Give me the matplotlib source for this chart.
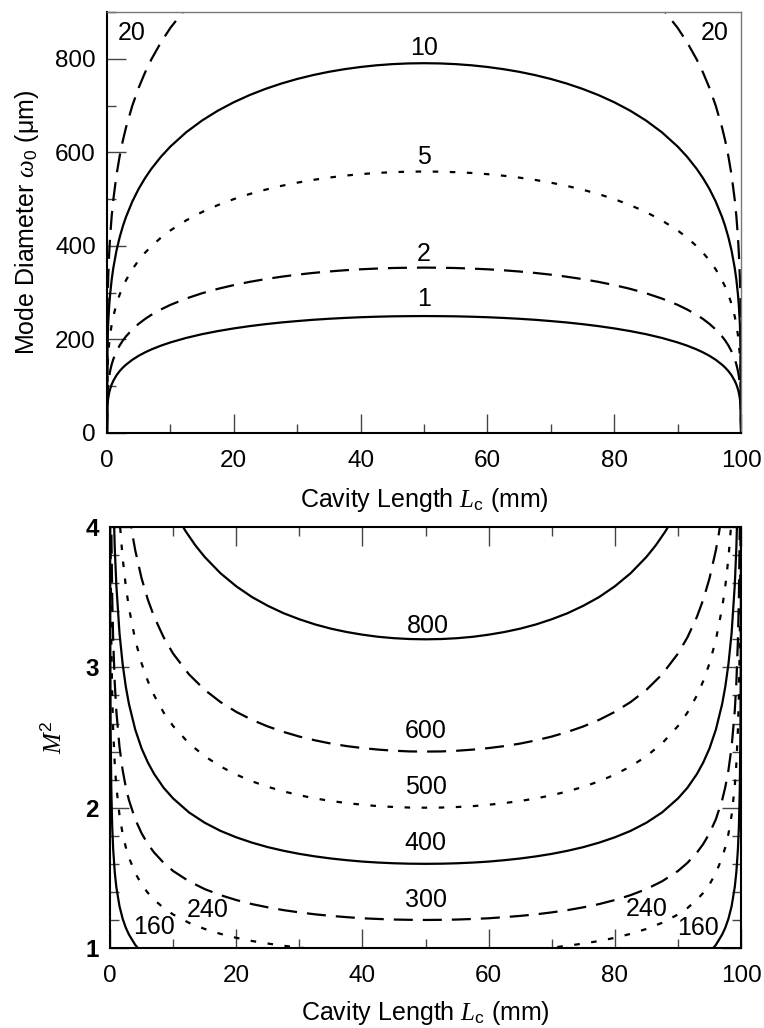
import matplotlib
matplotlib.use("Agg")
import matplotlib.pyplot as plt
from matplotlib.ticker import MultipleLocator

plt.rcParams['font.family'] = ['Liberation Sans', 'DejaVu Sans']
plt.rcParams['mathtext.fontset'] = 'custom'
plt.rcParams['mathtext.it'] = 'Liberation Serif:italic'
plt.rcParams['mathtext.rm'] = 'Liberation Sans'
plt.rcParams['lines.scale_dashes'] = False

# ---------------- top panel data: mode diameter (um) vs cavity length (mm) ----------------
L_top = [0, 0.1, 0.2, 0.35, 0.5, 0.75, 1, 1.5, 2, 2.5, 3, 4, 5, 6, 7, 8.5, 10, 12.5, 15, 17.5,
         20, 22.5, 25, 27.5, 30, 32.5, 35, 37.5, 40, 42.5, 45, 47.5, 50,
         52.5, 55, 57.5, 60, 62.5, 65, 67.5, 70, 72.5, 75, 77.5, 80, 82.5, 85, 87.5, 90,
         91.5, 93, 94, 95, 96, 97, 97.5, 98, 98.5, 99, 99.25, 99.5, 99.65, 99.8, 99.9, 100]
w_M1 = [0, 62.9, 74.7, 85.9, 93.9, 103.9, 111.5, 123.3, 132.3, 139.7, 146.0, 156.5, 165.1, 172.3, 178.6,
        186.7, 193.6, 203.3, 211.3, 217.9, 223.6, 228.5, 232.7, 236.3, 239.3, 242.0, 244.2, 246.0, 247.5,
        248.6, 249.4, 249.8, 250.0,
        249.8, 249.4, 248.6, 247.5, 246.0, 244.2, 242.0, 239.3, 236.3, 232.7, 228.5, 223.6, 217.9, 211.3,
        203.3, 193.6, 186.7, 178.6, 172.3, 165.1, 156.5, 146.0, 139.7, 132.3, 123.3, 111.5, 103.9, 93.9,
        85.9, 74.7, 62.9, 0]
w_M2 = [0, 88.9, 105.7, 121.5, 132.8, 146.9, 157.7, 174.3, 187.1, 197.6, 206.5, 221.3, 233.4, 243.7, 252.6,
        264.0, 273.9, 287.5, 298.8, 308.2, 316.2, 323.1, 329.0, 334.1, 338.5, 342.2, 345.3, 347.9, 350.0,
        351.5, 352.7, 353.3, 353.6,
        353.3, 352.7, 351.5, 350.0, 347.9, 345.3, 342.2, 338.5, 334.1, 329.0, 323.1, 316.2, 308.2, 298.8,
        287.5, 273.9, 264.0, 252.6, 243.7, 233.4, 221.3, 206.5, 197.6, 187.1, 174.3, 157.7, 146.9, 132.8,
        121.5, 105.7, 88.9, 0]
w_M5 = [0, 140.5, 167.1, 192.1, 210.0, 232.2, 249.4, 275.6, 295.8, 312.4, 326.5, 350.0, 369.1, 385.3, 399.3,
        417.5, 433.0, 454.6, 472.4, 487.3, 500.0, 510.9, 520.2, 528.3, 535.2, 541.1, 546.0, 550.1, 553.4,
        555.9, 557.6, 558.7, 559.0,
        558.7, 557.6, 555.9, 553.4, 550.1, 546.0, 541.1, 535.2, 528.3, 520.2, 510.9, 500.0, 487.3, 472.4,
        454.6, 433.0, 417.5, 399.3, 385.3, 369.1, 350.0, 326.5, 312.4, 295.8, 275.6, 249.4, 232.2, 210.0,
        192.1, 167.1, 140.5, 0]
w_M10 = [0, 198.7, 236.3, 271.7, 296.9, 328.4, 352.7, 389.8, 418.3, 441.8, 461.8, 494.9, 522.0, 544.8, 564.7,
         590.4, 612.4, 643.0, 668.1, 689.2, 707.1, 722.5, 735.7, 747.1, 756.9, 765.2, 772.2, 777.9, 782.5,
         786.1, 788.6, 790.1, 790.6,
         790.1, 788.6, 786.1, 782.5, 777.9, 772.2, 765.2, 756.9, 747.1, 735.7, 722.5, 707.1, 689.2, 668.1,
         643.0, 612.4, 590.4, 564.7, 544.8, 522.0, 494.9, 461.8, 441.8, 418.3, 389.8, 352.7, 328.4, 296.9,
         271.7, 236.3, 198.7, 0]
w_M20 = [0, 281.1, 334.2, 384.2, 419.9, 464.4, 498.7, 551.3, 591.6, 624.8, 653.0, 699.9, 738.1, 770.5, 798.7,
         835.0, 866.0, 909.3, 944.8, 974.6, 1000.0, 1021.7, 1040.4, 1056.5, 1070.3, 1082.1, 1092.0, 1100.1,
         1106.7, 1111.7, 1115.2, 1117.3, 1118.0,
         1117.3, 1115.2, 1111.7, 1106.7, 1100.1, 1092.0, 1082.1, 1070.3, 1056.5, 1040.4, 1021.7, 1000.0,
         974.6, 944.8, 909.3, 866.0, 835.0, 798.7, 770.5, 738.1, 699.9, 653.0, 624.8, 591.6, 551.3, 498.7,
         464.4, 419.9, 384.2, 334.2, 281.1, 0]
top_labels = ['1', '2', '5', '10', '20', '20']
top_label_x = [50, 50, 50, 50, 3.9, 95.9]
top_label_y = [287, 383, 591, 823, 855, 855]

# ---------------- bottom panel data: M^2 vs cavity length (mm) ----------------
L_800 = [8.5, 10, 11, 12, 13.5, 15, 17.5, 20, 22.5, 25, 27.5, 30, 32.5, 35, 37.5, 40, 42.5, 45, 47.5, 50,
         52.5, 55, 57.5, 60, 62.5, 65, 67.5, 70, 72.5, 75, 77.5, 80, 82.5, 85, 86.5, 88, 89, 90, 91.5]
M2_800 = [4.285, 4.131, 4.045, 3.969, 3.871, 3.787, 3.671, 3.578, 3.501, 3.439, 3.386, 3.343, 3.306, 3.276,
          3.252, 3.233, 3.218, 3.208, 3.202, 3.200,
          3.202, 3.208, 3.218, 3.233, 3.252, 3.276, 3.306, 3.343, 3.386, 3.439, 3.501, 3.578, 3.671, 3.787,
          3.871, 3.969, 4.045, 4.131, 4.285]
L_600 = [2, 2.5, 3, 3.5, 4, 5, 6, 7, 8.5, 10, 12.5, 15, 17.5, 20, 22.5, 25, 27.5, 30, 32.5, 35, 37.5, 40,
         42.5, 45, 47.5, 50, 52.5, 55, 57.5, 60, 62.5, 65, 67.5, 70, 72.5, 75, 77.5, 80, 82.5, 85, 87.5, 90,
         91.5, 93, 94, 95, 96, 96.5, 97, 97.5, 98]
M2_600 = [4.535, 4.295, 4.109, 3.959, 3.834, 3.635, 3.482, 3.360, 3.214, 3.098, 2.951, 2.840, 2.753, 2.683,
          2.626, 2.579, 2.540, 2.507, 2.480, 2.457, 2.439, 2.425, 2.414, 2.406, 2.401, 2.400,
          2.401, 2.406, 2.414, 2.425, 2.439, 2.457, 2.480, 2.507, 2.540, 2.579, 2.626, 2.683, 2.753, 2.840,
          2.951, 3.098, 3.214, 3.360, 3.482, 3.635, 3.834, 3.959, 4.109, 4.295, 4.535]
L_500 = [1, 1.5, 2, 2.5, 3, 4, 5, 6, 7, 8.5, 10, 12.5, 15, 17.5, 20, 22.5, 25, 27.5, 30, 32.5, 35, 37.5, 40,
         42.5, 45, 47.5, 50, 52.5, 55, 57.5, 60, 62.5, 65, 67.5, 70, 72.5, 75, 77.5, 80, 82.5, 85, 87.5, 90,
         91.5, 93, 94, 95, 96, 97, 97.5, 98, 98.5, 99]
M2_500 = [4.483, 4.056, 3.780, 3.579, 3.424, 3.195, 3.029, 2.902, 2.800, 2.678, 2.582, 2.459, 2.367, 2.294,
          2.236, 2.188, 2.149, 2.116, 2.089, 2.066, 2.048, 2.033, 2.021, 2.011, 2.005, 2.001, 2.000,
          2.001, 2.005, 2.011, 2.021, 2.033, 2.048, 2.066, 2.089, 2.116, 2.149, 2.188, 2.236, 2.294, 2.367,
          2.459, 2.582, 2.678, 2.800, 2.902, 3.029, 3.195, 3.424, 3.579, 3.780, 4.056, 4.483]
L_400 = [0.5, 0.75, 1, 1.5, 2, 2.5, 3, 4, 5, 6, 7, 8.5, 10, 12.5, 15, 17.5, 20, 22.5, 25, 27.5, 30, 32.5, 35,
         37.5, 40, 42.5, 45, 47.5, 50, 52.5, 55, 57.5, 60, 62.5, 65, 67.5, 70, 72.5, 75, 77.5, 80, 82.5, 85,
         87.5, 90, 91.5, 93, 94, 95, 96, 97, 97.5, 98, 98.5, 99, 99.25, 99.5]
M2_400 = [4.260, 3.852, 3.587, 3.245, 3.024, 2.863, 2.739, 2.556, 2.423, 2.322, 2.240, 2.142, 2.066, 1.967,
          1.893, 1.835, 1.789, 1.751, 1.719, 1.693, 1.671, 1.653, 1.638, 1.626, 1.616, 1.609, 1.604, 1.601,
          1.600,
          1.601, 1.604, 1.609, 1.616, 1.626, 1.638, 1.653, 1.671, 1.693, 1.719, 1.751, 1.789, 1.835, 1.893,
          1.967, 2.066, 2.142, 2.240, 2.322, 2.423, 2.556, 2.739, 2.863, 3.024, 3.245, 3.587, 3.852, 4.260]
L_300 = [0.1, 0.2, 0.35, 0.5, 0.75, 1, 1.5, 2, 2.5, 3, 4, 5, 6, 7, 8.5, 10, 12.5, 15, 17.5, 20, 22.5, 25,
         27.5, 30, 32.5, 35, 37.5, 40, 42.5, 45, 47.5, 50, 52.5, 55, 57.5, 60, 62.5, 65, 67.5, 70, 72.5, 75,
         77.5, 80, 82.5, 85, 87.5, 90, 91.5, 93, 94, 95, 96, 97, 97.5, 98, 98.5, 99, 99.25, 99.5, 99.65,
         99.8, 99.9]
M2_300 = [4.773, 4.014, 3.492, 3.195, 2.889, 2.690, 2.434, 2.268, 2.147, 2.054, 1.917, 1.818, 1.741, 1.680,
          1.607, 1.549, 1.476, 1.420, 1.377, 1.342, 1.313, 1.290, 1.270, 1.254, 1.240, 1.229, 1.220, 1.212,
          1.207, 1.203, 1.201, 1.200,
          1.201, 1.203, 1.207, 1.212, 1.220, 1.229, 1.240, 1.254, 1.270, 1.290, 1.313, 1.342, 1.377, 1.420,
          1.476, 1.549, 1.607, 1.680, 1.741, 1.818, 1.917, 2.054, 2.147, 2.268, 2.434, 2.690, 2.889, 3.195,
          3.492, 4.014, 4.773]
L_240 = [0.05, 0.1, 0.2, 0.35, 0.5, 0.75, 1, 1.5, 2, 2.5, 3, 4, 5, 6, 7, 8.5, 10, 12.5, 15, 17.5, 20, 22.5,
         25, 27.5, 30, 32.5, 35, 50, 65, 67.5, 70, 72.5, 75, 77.5, 80, 82.5, 85, 87.5, 90, 91.5, 93, 94, 95,
         96, 97, 97.5, 98, 98.5, 99, 99.25, 99.5, 99.65, 99.8, 99.9, 99.95]
M2_240 = [4.541, 3.819, 3.212, 2.793, 2.556, 2.311, 2.152, 1.947, 1.814, 1.718, 1.644, 1.534, 1.454, 1.393,
          1.344, 1.285, 1.239, 1.180, 1.136, 1.101, 1.073, 1.050, 1.032, 1.016, 1.003, 0.992, 0.983, 0.960,
          0.983, 0.992, 1.003, 1.016, 1.032, 1.050, 1.073, 1.101, 1.136, 1.180, 1.239, 1.285, 1.344, 1.393,
          1.454, 1.534, 1.644, 1.718, 1.814, 1.947, 2.152, 2.311, 2.556, 2.793, 3.212, 3.819, 4.541]
L_160 = [0.01, 0.02, 0.05, 0.1, 0.2, 0.35, 0.5, 0.75, 1, 1.5, 2, 2.5, 3, 4, 5, 6, 10, 50,
         90, 94, 95, 96, 97, 97.5, 98, 98.5, 99, 99.25, 99.5, 99.65, 99.8, 99.9, 99.95, 99.98, 99.99]
M2_160 = [4.525, 3.805, 3.027, 2.546, 2.141, 1.862, 1.704, 1.541, 1.435, 1.298, 1.209, 1.145, 1.096, 1.022,
          0.969, 0.929, 0.826, 0.640,
          0.826, 0.929, 0.969, 1.022, 1.096, 1.145, 1.209, 1.298, 1.435, 1.541, 1.704, 1.862, 2.141, 2.546,
          3.027, 3.805, 4.525]
bot_labels = ['800', '600', '500', '400', '300', '240', '160', '240', '160']
bot_label_x = [50.3, 50, 50, 50, 50, 15.5, 6.9, 85.0, 93.1]
bot_label_y = [3.294, 2.546, 2.147, 1.748, 1.341, 1.27, 1.149, 1.277, 1.142]

# ---------------- styles ----------------
SOLID = '-'
DASH = (0, (13.7, 7.2))
DOT = (0, (4.0, 8.3))
LW = 1.6
FS_TICK = 17.5
FS_LABEL = 18
FS_ANN = 18

fig = plt.figure(figsize=(7.64, 10.28), dpi=100)
ax1 = fig.add_axes([0.140, 0.5788, 0.830, 0.4095])
ax2 = fig.add_axes([0.144, 0.0778, 0.826, 0.4095])

# top panel curves
for w, ls in [(w_M1, SOLID), (w_M2, DASH), (w_M5, DOT), (w_M10, SOLID), (w_M20, DASH)]:
    ax1.plot(L_top, w, color='black', lw=LW, linestyle=ls, solid_capstyle='butt',
             dash_capstyle='butt', solid_joinstyle='round')
for t, x, y in zip(top_labels, top_label_x, top_label_y):
    ax1.text(x, y, t, ha='center', va='center', fontsize=FS_ANN)

ax1.set_xlim(0, 100)
ax1.set_ylim(0, 900)
ax1.xaxis.set_major_locator(MultipleLocator(20))
ax1.xaxis.set_minor_locator(MultipleLocator(10))
ax1.yaxis.set_major_locator(MultipleLocator(200))
ax1.yaxis.set_minor_locator(MultipleLocator(100))
ax1.tick_params(which='both', direction='in', top=False, right=False, color='#444444', width=1.0)
ax1.tick_params(which='major', length=13.7, labelsize=FS_TICK)
ax1.tick_params(which='minor', length=6.8)
ax1.tick_params(axis='x', pad=12)
ax1.tick_params(axis='y', pad=8)
for s in ['left', 'bottom']:
    ax1.spines[s].set_linewidth(1.5)
    ax1.spines[s].set_color('black')
for s in ['top', 'right']:
    ax1.spines[s].set_linewidth(1.0)
    ax1.spines[s].set_color('#777777')
ax1.set_xlabel(r'Cavity Length $L_{\mathrm{c}}$ (mm)', fontsize=FS_LABEL, labelpad=10)
ax1.set_ylabel(r'Mode Diameter $\omega_{\mathrm{0}}$ (μm)', fontsize=FS_LABEL, labelpad=10)

# bottom panel curves
for L, m, ls in [(L_800, M2_800, SOLID), (L_600, M2_600, DASH), (L_500, M2_500, DOT),
                 (L_400, M2_400, SOLID), (L_300, M2_300, DASH), (L_240, M2_240, DOT),
                 (L_160, M2_160, SOLID)]:
    ax2.plot(L, m, color='black', lw=LW, linestyle=ls, solid_capstyle='butt',
             dash_capstyle='butt', solid_joinstyle='round')
for t, x, y in zip(bot_labels, bot_label_x, bot_label_y):
    ax2.text(x, y, t, ha='center', va='center', fontsize=FS_ANN)

ax2.set_xlim(0, 100)
ax2.set_ylim(1, 4)
ax2.xaxis.set_major_locator(MultipleLocator(20))
ax2.xaxis.set_minor_locator(MultipleLocator(10))
ax2.yaxis.set_major_locator(MultipleLocator(1))
ax2.yaxis.set_minor_locator(MultipleLocator(0.2))
ax2.tick_params(which='both', direction='in', top=True, right=True, color='#444444', width=1.0)
ax2.tick_params(which='major', length=13.7, labelsize=FS_TICK)
ax2.tick_params(which='minor', length=6.8)
ax2.tick_params(axis='x', pad=12)
ax2.tick_params(axis='y', pad=8)
for lbl in ax2.get_yticklabels():
    lbl.set_fontweight('bold')
for s in ax2.spines.values():
    s.set_linewidth(1.5)
    s.set_color('black')
ax2.set_xlabel(r'Cavity Length $L_{\mathrm{c}}$ (mm)', fontsize=FS_LABEL, labelpad=9)
ax2.set_ylabel(r'$M^{\mathrm{2}}$', fontsize=FS_LABEL, labelpad=14)

fig.savefig('out.png', dpi=100)
